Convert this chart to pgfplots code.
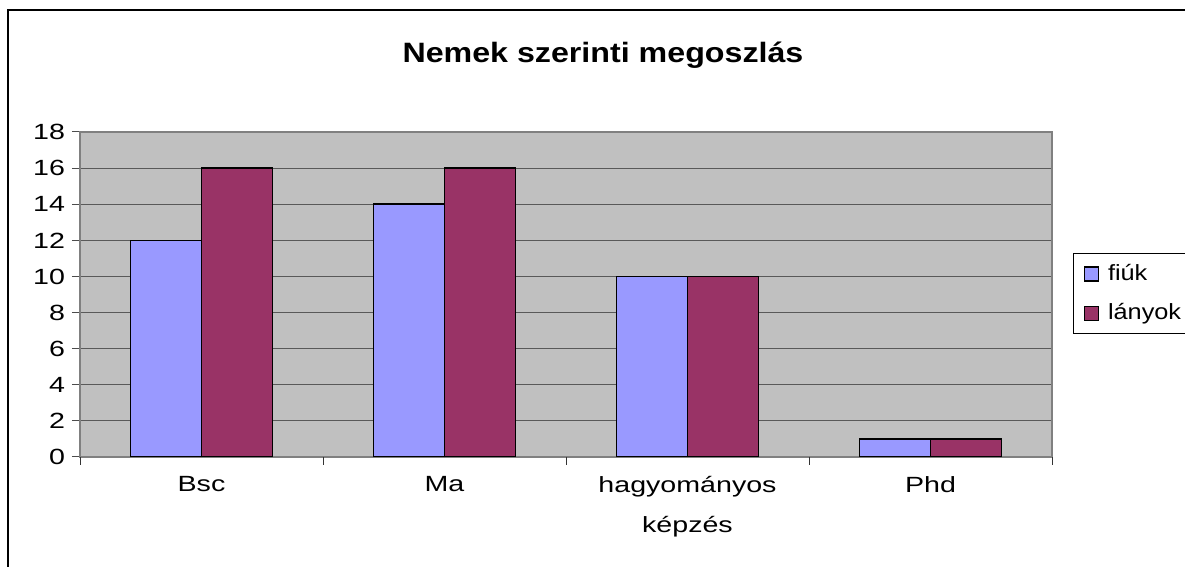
\documentclass[border=0pt]{standalone}
\usepackage{fontspec}
\setmainfont[FakeStretch=1.3]{Liberation Sans}
\newfontfamily\titlefont[FakeStretch=1.15]{Liberation Sans}
\newfontfamily\legfont[FakeStretch=1.15]{Liberation Sans}
\usepackage{pgfplots}
\pgfplotsset{compat=1.18}
\definecolor{fiuk}{HTML}{9999FF}
\definecolor{lanyok}{HTML}{993366}
\definecolor{plotbg}{HTML}{C0C0C0}
\begin{document}
\begin{tikzpicture}[x=1pt,y=1pt]
\useasboundingbox (0,0) rectangle (592.5,283.5);
\draw[black,line width=0.6pt] (4,0) -- (4,278.5) -- (592.5,278.5);
\node[font=\titlefont\fontsize{14}{16}\selectfont\bfseries] at (301.5,256) {Nemek szerinti megoszlás};
\begin{axis}[
  xshift=40pt, yshift=55pt,
  scale only axis, width=486pt, height=162.5pt,
  xmin=-0.5, xmax=3.5, ymin=0, ymax=18,
  ytick={0,2,...,18},
  xtick={0,1,2,3},
  xticklabels={Bsc,Ma,{hagyományos\\képzés},Phd},
  xticklabel style={align=center, font=\fontsize{11}{20}\selectfont, yshift=-2pt},
  yticklabel style={font=\fontsize{11}{13}\selectfont},
  /pgf/number format/assume math mode=true,
  tick pos=left,
  tick align=outside,
  major tick length=4pt,
  tick style={draw=black!70, line width=0.5pt},
  xtick style={draw=none},
  extra x ticks={-0.5,0.5,1.5,2.5,3.5},
  extra x tick labels={},
  extra x tick style={xtick style={draw=black!80}},
  ymajorgrids,
  grid style={draw=black!65, line width=0.5pt},
  axis background/.style={fill=plotbg},
  axis line style={draw=black!50, line width=0.6pt},
  legend style={at={(1.0216,0.6277)}, anchor=north west, draw=black, line width=0.5pt,
    font=\legfont\fontsize{11}{13}\selectfont, inner xsep=0pt, inner ysep=3.5pt, row sep=6pt,
    nodes={inner xsep=2.5pt}},
  legend cell align=left,
  legend image code/.code={\path (0pt,0pt) (14pt,0pt);
    \draw[#1, line width=0.6pt] (5pt,-3.5pt) rectangle (12pt,3.5pt);},
]
\addplot[ybar, bar width=0.292, bar shift=-0.146, fill=fiuk, draw=black, line width=0.75pt]
  coordinates {(0,12) (1,14) (2,10) (3,1)};
\addlegendentry{fiúk}
\addplot[ybar, bar width=0.292, bar shift=0.146, fill=lanyok, draw=black, line width=0.75pt]
  coordinates {(0,16) (1,16) (2,10) (3,1)};
\addlegendentry{lányok}
\end{axis}
\end{tikzpicture}
\end{document}
